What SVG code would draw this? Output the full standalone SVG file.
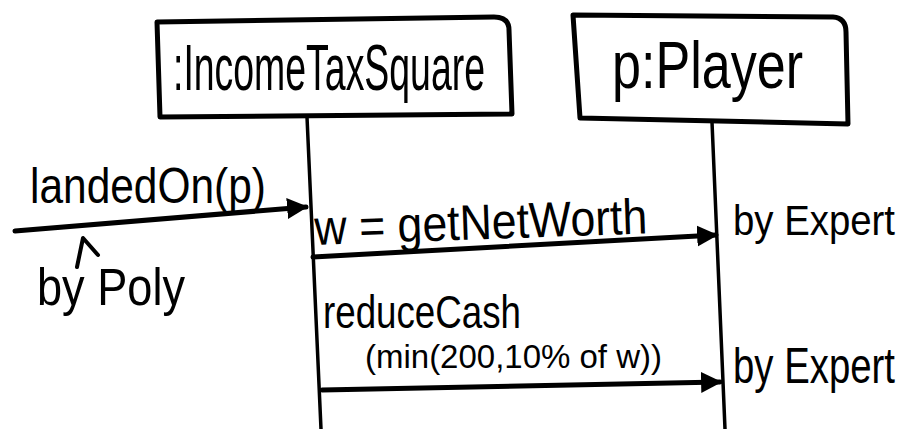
<svg xmlns="http://www.w3.org/2000/svg" width="908" height="429" viewBox="0 0 908 429">
<style>
.ln{fill:none;stroke:#000;stroke-linecap:round;stroke-linejoin:round}
.box{stroke-width:5}
.life{stroke-width:3.5}
.msg{stroke-width:5}
.t{font-family:"Liberation Sans",Arial,sans-serif;fill:#000}
</style>
<defs>
<marker id="ah" viewBox="0 0 10 10" refX="9" refY="5" markerWidth="4.2" markerHeight="4.4" orient="auto" markerUnits="strokeWidth">
<path d="M0,0 L10,5 L0,10 Z" fill="#000"/>
</marker>
</defs>
<rect width="908" height="429" fill="#fff"/>
<g id="node-incometaxsquare">
<path class="ln box" d="M157,22 L494,17 Q509,17 509,30 L512,114 L160,117 Z"/>
<text class="t" transform="translate(173,90) scale(1,1.75)" x="0" y="0" font-size="37" textLength="312" lengthAdjust="spacingAndGlyphs">:IncomeTaxSquare</text>
<path class="ln life" d="M307,117 L321,429"/>
</g>
<g id="node-player">
<path class="ln box" d="M573,15 L833,17 Q846,18 846,32 L848,124 L580,118 Z"/>
<text class="t" transform="translate(612,88) scale(1,1.28)" x="0" y="0" font-size="52" textLength="191" lengthAdjust="spacingAndGlyphs">p:Player</text>
<path class="ln life" d="M712,122 L725,429"/>
</g>
<g id="connectors">
<path class="ln msg" d="M15,231 L306,207" marker-end="url(#ah)"/>
<path class="ln msg" d="M313,257 L716,235" marker-end="url(#ah)"/>
<path class="ln msg" d="M322,390 L720,382" marker-end="url(#ah)"/>
</g>
<g id="labels">
<text class="t" transform="translate(30,203) scale(1,1.18)" x="0" y="0" font-size="42.5" textLength="236" lengthAdjust="spacingAndGlyphs">landedOn(p)</text>
<path class="ln" stroke-width="4" d="M77,267 L83,238 L98,255"/>
<text class="t" transform="translate(37,305) scale(1,1.15)" x="0" y="0" font-size="45" textLength="148" lengthAdjust="spacingAndGlyphs">by Poly</text>
<text class="t" transform="translate(315,245) rotate(-2) scale(1,1.12)" x="0" y="0" font-size="44.5" textLength="333" lengthAdjust="spacingAndGlyphs">w = getNetWorth</text>
<text class="t" transform="translate(733,235) scale(1,1.08)" x="0" y="0" font-size="38.5" textLength="162" lengthAdjust="spacingAndGlyphs">by Expert</text>
<text class="t" transform="translate(323,328) scale(1,1.25)" x="0" y="0" font-size="36.8" textLength="198" lengthAdjust="spacingAndGlyphs">reduceCash</text>
<text class="t" transform="translate(365,368)" x="0" y="0" font-size="33" textLength="297" lengthAdjust="spacingAndGlyphs">(min(200,10% of w))</text>
<text class="t" transform="translate(733,383) scale(1,1.28)" x="0" y="0" font-size="38.5" textLength="162" lengthAdjust="spacingAndGlyphs">by Expert</text>
</g>
</svg>
